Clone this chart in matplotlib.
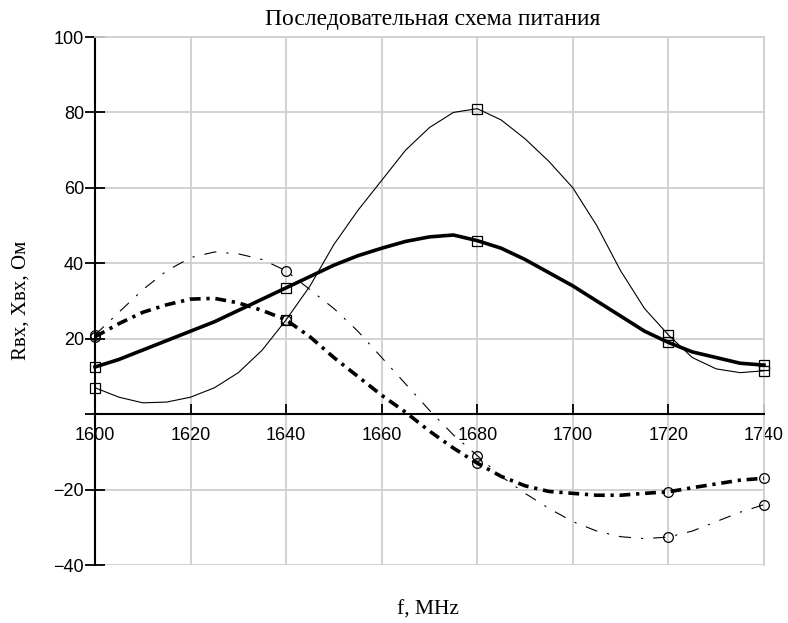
import matplotlib
matplotlib.use("Agg")
import matplotlib.pyplot as plt

freq = [1600, 1605, 1610, 1615, 1620, 1625, 1630, 1635, 1640, 1645,
        1650, 1655, 1660, 1665, 1670, 1675, 1680, 1685, 1690, 1695,
        1700, 1705, 1710, 1715, 1720, 1725, 1730, 1735, 1740]

r_thin = [7, 4.5, 3, 3.2, 4.5, 7, 11, 17, 25, 34,
          45, 54, 62, 70, 76, 80, 81, 78, 73, 67,
          60, 50, 38, 28, 21, 15, 12, 11, 11.5]

r_thick = [12.5, 14.5, 17, 19.5, 22, 24.5, 27.5, 30.5, 33.5, 36.5,
           39.5, 42, 44, 45.8, 47, 47.5, 46, 44, 41, 37.5,
           34, 30, 26, 22, 19, 16.5, 15, 13.5, 13]

x_thin = [21, 27, 33, 38, 41.5, 43, 42.5, 41, 38, 33,
          28, 22, 15, 8, 1, -5.5, -11, -16.5, -21, -25,
          -28.5, -31, -32.5, -33, -32.6, -31, -28.5, -26, -24]

x_thick = [20.5, 24, 27, 29, 30.5, 30.7, 29.5, 27.5, 25, 20.5,
           15, 10, 5, 0.5, -4.5, -9, -13, -16.5, -19, -20.5,
           -21, -21.5, -21.5, -21, -20.6, -19.5, -18.5, -17.5, -17]

marker_idx = [0, 8, 16, 24, 28]
xticks = [1600, 1620, 1640, 1660, 1680, 1700, 1720, 1740]
yticks = [-40, -20, 0, 20, 40, 60, 80, 100]
ytick_labels = ["\u221240", "\u221220", "", "20", "40", "60", "80", "100"]

title = "Последовательная схема питания"
ylabel = "Rвх, Xвх, Ом"
xlabel = "f, MHz"

W, H = 788, 623
fig = plt.figure(figsize=(W / 100, H / 100), dpi=100)
ax = fig.add_axes([95 / W, (H - 565) / H, (764 - 95) / W, (565 - 37) / H])

ax.set_xlim(1600, 1740)
ax.set_ylim(-40, 100)

ax.grid(True, color="#cfcfcf", lw=1.3)
ax.set_axisbelow(True)

ax.plot(freq, r_thin, color="black", lw=0.8, marker="s", ms=7, mfc="none",
        mew=0.9, markevery=marker_idx, clip_on=False, zorder=3)
ax.plot(freq, r_thick, color="black", lw=2.6, marker="s", ms=7, mfc="none",
        mew=0.9, markevery=marker_idx, clip_on=False, zorder=3)
ax.plot(freq, x_thin, color="black", lw=0.8, ls=(0, (11, 9, 2, 9)),
        marker="o", ms=7, mfc="none", mew=0.9, markevery=marker_idx,
        clip_on=False, zorder=3)
ax.plot(freq, x_thick, color="black", lw=2.6, ls=(0, (3, 1.6, 0.9, 1.6)),
        marker="o", ms=7, mfc="none", mew=0.9, markevery=marker_idx,
        clip_on=False, zorder=3)

for s in ("top", "right"):
    ax.spines[s].set_color("#cfcfcf")
    ax.spines[s].set_linewidth(1.3)
ax.spines["left"].set_color("black")
ax.spines["left"].set_linewidth(1.5)
ax.spines["bottom"].set_position(("data", 0))
ax.spines["bottom"].set_color("black")
ax.spines["bottom"].set_linewidth(1.5)

ax.set_xticks(xticks)
ax.set_xticklabels([str(v) for v in xticks])
ax.set_yticks(yticks)
ax.set_yticklabels(ytick_labels)

for lab in ax.get_xticklabels() + ax.get_yticklabels():
    lab.set_fontfamily("Liberation Sans")
    lab.set_fontsize(13)

ax.tick_params(axis="x", direction="in", length=7, width=1.3, pad=9, colors="black")
ax.tick_params(axis="y", direction="inout", length=14, width=1.3, pad=1, colors="black")

fig.text(433 / W, 1 - 20 / H, title, ha="center", va="center",
         family="Liberation Serif", size=17)
fig.text(21 / W, 1 - 300 / H, ylabel, ha="center", va="center", rotation=90,
         family="Liberation Serif", size=15)
fig.text(428 / W, 1 - 610 / H, xlabel, ha="center", va="center",
         family="Liberation Serif", size=15.5)

fig.savefig("out.png", dpi=100)
